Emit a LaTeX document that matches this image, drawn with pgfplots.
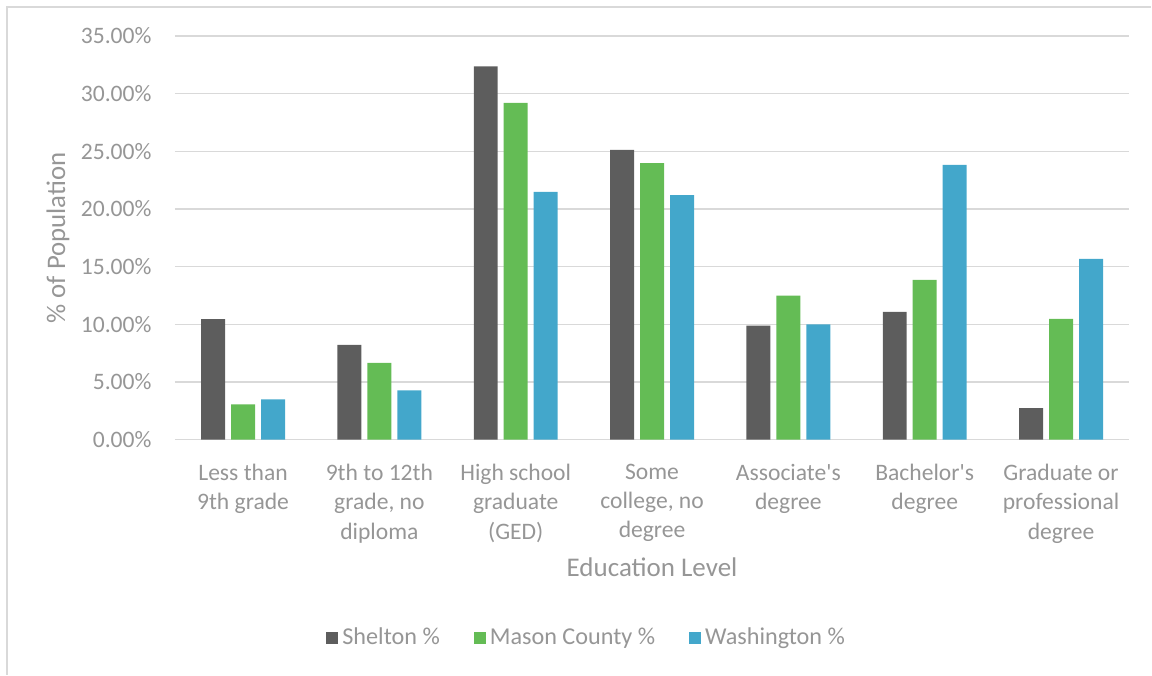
\documentclass[border=0pt]{standalone}
\usepackage{pgfplots}
\pgfplotsset{compat=1.18}
\usepackage{fontspec}
\setmainfont{Carlito}
\definecolor{shel}{RGB}{93,93,93}
\definecolor{mason}{RGB}{100,188,85}
\definecolor{wash}{RGB}{67,167,203}
\definecolor{txt}{RGB}{150,150,150}
\definecolor{gridc}{RGB}{217,217,217}
\begin{document}
\begin{tikzpicture}[x=1bp,y=1bp]
\path (0,0) rectangle (576,337.5);
\draw[gridc, line width=0.8bp] (3.5,0) -- (3.5,334) -- (576,334);
\begin{axis}[
  at={(87.5bp,117.5bp)}, anchor=south west,
  scale only axis, width=477.5bp, height=202bp,
  ybar=3bp, bar width=12bp,
  xmin=-0.5, xmax=6.5, ymin=0, ymax=35,
  xtick={0,1,2,3,4,5,6},
  xticklabels={{Less than\\9th grade},{9th to 12th\\grade, no\\diploma},{High school\\graduate\\(GED)},{Some\\college, no\\degree},{Associate\textquotesingle s\\degree},{Bachelor\textquotesingle s\\degree},{Graduate or\\professional\\degree}},
  ytick={0,5,10,15,20,25,30,35},
  yticklabels={0.00\%,5.00\%,10.00\%,15.00\%,20.00\%,25.00\%,30.00\%,35.00\%},
  major tick length=0pt,
  axis line style={draw=none},
  ymajorgrids, grid style={gridc, line width=0.7bp},
  tick label style={txt, font=\fontsize{11.8bp}{14.65bp}\selectfont},
  x tick label style={align=center, anchor=north, inner sep=0pt, yshift=-12bp},
  y tick label style={anchor=east, inner sep=0pt, xshift=-11.5bp},
  ylabel={\% of Population},
  ylabel style={txt, font=\fontsize{13.4bp}{16bp}\selectfont, at={(axis description cs:-0.1225,0.5)}, anchor=center},
  xlabel={Education Level},
  xlabel style={txt, font=\fontsize{13.5bp}{16bp}\selectfont, at={(axis description cs:0.5,-0.3168)}, anchor=center},
  legend columns=3,
  legend style={draw=none, at={(axis description cs:0.4325,-0.49)}, anchor=center,
    font=\fontsize{12.1bp}{14bp}\selectfont, text=txt,
    /tikz/every even column/.append style={column sep=15bp},
    nodes={inner sep=2bp}},
  legend image code/.code={\fill[#1] (0bp,-3bp) rectangle (6bp,3bp);},
]
\addplot[fill=shel, draw=none] coordinates {(0,10.45) (1,8.23) (2,32.37) (3,25.13) (4,9.88) (5,11.09) (6,2.74)};
\addplot[fill=mason, draw=none] coordinates {(0,3.06) (1,6.67) (2,29.2) (3,23.97) (4,12.5) (5,13.86) (6,10.48)};
\addplot[fill=wash, draw=none] coordinates {(0,3.49) (1,4.27) (2,21.49) (3,21.2) (4,9.99) (5,23.83) (6,15.68)};
\legend{Shelton \%, Mason County \%, Washington \%}
\end{axis}
\end{tikzpicture}
\end{document}
